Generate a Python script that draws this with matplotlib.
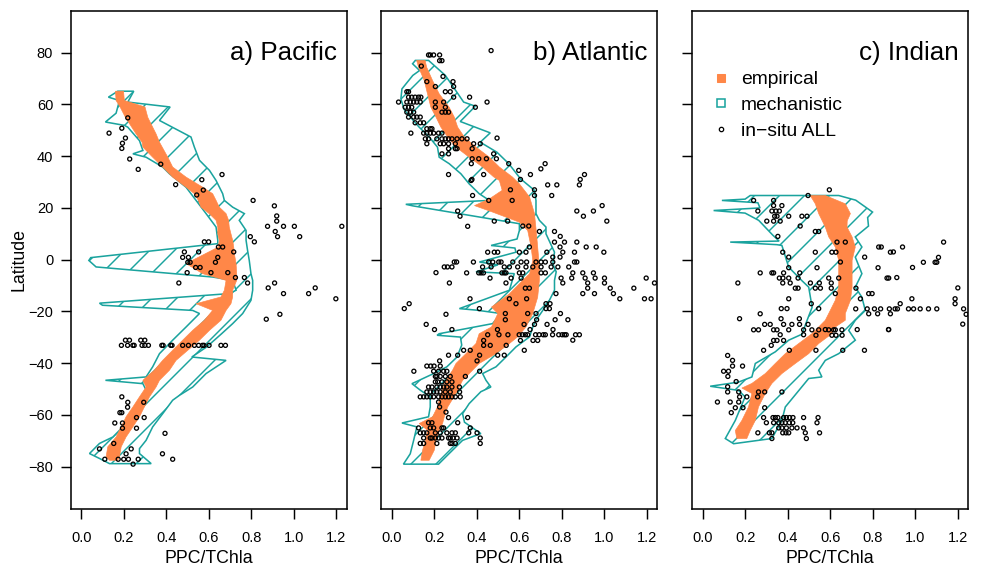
import numpy as np
import matplotlib
matplotlib.use("Agg")
import matplotlib.pyplot as plt
from matplotlib.lines import Line2D

plt.rcParams['font.family'] = ['Liberation Sans', 'DejaVu Sans']
plt.rcParams['hatch.linewidth'] = 1.4

ORANGE = '#FF8748'
TEAL = '#1AA39E'

TITLES = ['a) Pacific', 'b) Atlantic', 'c) Indian']
XTICKS = [0.0, 0.2, 0.4, 0.6, 0.8, 1.0, 1.2]
YTICKS = [-80, -60, -40, -20, 0, 20, 40, 60, 80]
LEGEND_LABELS = ['empirical', 'mechanistic', 'in\u2212situ ALL']

# ---------------- Pacific ----------------
PAC_EMP_W = [(65.1,0.161),(61.5,0.164),(59,0.183),(55,0.208),(48.6,0.258),(45.4,0.286),(43.5,0.29),(39.6,0.336),
             (35.8,0.383),(31.9,0.430),(28,0.493),(25.5,0.532),(22.9,0.551),(20.3,0.563),(17.8,0.602),(15.2,0.634),
             (12.6,0.642),(10,0.642),(7.5,0.649),(4.9,0.645),(-1.5,0.493),(-5.4,0.571),(-8,0.681),(-11.8,0.673),
             (-14.4,0.657),(-17,0.540),(-19.6,0.618),(-23.4,0.579),(-27.3,0.524),(-31.1,0.477),(-35,0.430),
             (-38.9,0.383),(-42.7,0.344),(-46.6,0.290),(-49.2,0.305),(-53,0.274),(-56.9,0.243),(-60.7,0.211),
             (-64.6,0.188),(-68.5,0.164),(-72.3,0.125),(-76.2,0.117),(-77.5,0.133)]
PAC_EMP_E = [(65.1,0.199),(61.5,0.203),(59,0.300),(55,0.313),(48.6,0.352),(45.4,0.368),(39.6,0.407),(35.8,0.430),
             (31.9,0.493),(28,0.571),(25.5,0.618),(22.9,0.634),(20.3,0.649),(17.8,0.681),(15.2,0.693),(12.6,0.696),
             (10,0.704),(7.5,0.712),(4.9,0.717),(2.3,0.720),(-1.5,0.728),(-5.4,0.731),(-8,0.731),(-11.8,0.712),
             (-14.4,0.712),(-17,0.704),(-19.6,0.681),(-23.4,0.657),(-27.3,0.603),(-31.1,0.556),(-35,0.501),
             (-38.9,0.446),(-42.7,0.415),(-46.6,0.368),(-49.2,0.352),(-53,0.321),(-56.9,0.297),(-60.7,0.274),
             (-64.6,0.243),(-68.5,0.211),(-72.3,0.188),(-76.2,0.180),(-77.5,0.172)]
PAC_MECH_W = [(65.1,0.172),(62.8,0.128),(61.5,0.180),(56.6,0.164),(53.2,0.114),(51.9,0.203),(51.2,0.219),(46.0,0.274),
              (42.2,0.290),(40.9,0.243),(39.6,0.305),(35.8,0.383),(33.2,0.415),(28.0,0.493),(22.9,0.540),(17.8,0.587),
              (12.6,0.634),(7.5,0.642),(6.2,0.642),(0.8,0.045),(-0.3,0.036),(-2.8,0.070),(-6.7,0.618),(-8.0,0.712),
              (-11.8,0.728),(-13.1,0.696),(-16.8,0.086),(-17.6,0.10),(-19.6,0.524),(-20.8,0.556),(-26.0,0.493),
              (-31.1,0.430),(-36.3,0.368),(-41.4,0.336),(-45.3,0.305),(-46.6,0.114),(-47.9,0.290),(-50.4,0.305),
              (-54.3,0.274),(-59.5,0.243),(-64.6,0.196),(-68.5,0.149),(-71.0,0.086),(-74.9,0.039),(-76.8,0.086),
              (-78.8,0.133)]
PAC_MECH_E = [(65.1,0.247),(60.9,0.219),(59.0,0.418),(53.8,0.368),(47.4,0.516),(43.5,0.532),(38.4,0.556),(34.5,0.603),
              (30.6,0.634),(25.5,0.665),(22.9,0.673),(20.3,0.712),(17.8,0.767),(15.2,0.743),(11.3,0.775),(7.5,0.775),
              (3.6,0.782),(-0.3,0.790),(-5.4,0.798),(-8.0,0.806),(-11.8,0.806),(-15.7,0.798),(-20.8,0.759),
              (-24.7,0.712),(-28.6,0.660),(-33.7,0.590),(-37.6,0.520),(-38.9,0.681),(-44.0,0.587),(-49.2,0.524),
              (-52.4,0.462),(-54.3,0.430),(-59.5,0.383),(-64.6,0.336),(-69.8,0.305),(-73.0,0.274),(-74.9,0.274),
              (-78.8,0.329)]
PAC_PTS = [(0.219,54.8),(0.191,50.8),(0.131,48.9),(0.208,47.0),(0.194,45.0),(0.191,43.0),(0.228,38.9),(0.268,34.9),
           (0.374,36.9),(0.444,29.0),(0.567,30.9),(0.574,26.9),(0.543,25.0),(0.662,32.9),(0.808,22.9),(0.876,12.9),
           (0.908,20.8),(0.919,16.9),(0.919,14.9),(0.912,10.9),(0.923,8.9),(0.951,12.9),(1.002,12.9),(1.027,8.9),
           (1.225,12.9),(0.795,8.9),(0.814,6.9),(0.579,6.9),(0.599,6.9),(0.645,4.9),(0.665,4.9),(0.717,3.0),
           (0.485,3.0),(0.477,0.9),(0.552,3.0),(0.504,0.9),(0.501,-1.0),(0.512,-1.0),(0.538,-3.0),(0.559,-3.0),
           (0.642,0.9),(0.631,-1.0),(0.610,-5.0),(0.498,-5.0),(0.689,-5.0),(0.725,-6.9),(0.767,-6.9),(0.782,-9.0),
           (0.459,-9.0),(0.879,-10.9),(0.909,-9.0),(1.100,-10.9),(0.951,-13.1),(1.069,-13.1),(1.197,-15.1),
           (0.870,-23.0),(0.934,-21.1),
           (0.208,-31.1),(0.227,-31.1),(0.280,-31.1),(0.299,-31.1),
           (0.189,-33.1),(0.218,-33.1),(0.243,-33.1),(0.249,-33.1),(0.286,-33.1),(0.299,-33.1),(0.316,-33.1),
           (0.379,-33.1),(0.385,-33.1),(0.421,-33.1),(0.427,-33.1),(0.477,-33.1),(0.504,-33.1),(0.532,-33.1),
           (0.552,-33.1),(0.570,-33.1),(0.577,-33.1),(0.601,-33.1),(0.657,-33.1),(0.678,-33.1),
           (0.191,-53.0),(0.219,-55.1),(0.218,-57.0),(0.191,-59.1),(0.182,-59.1),(0.158,-63.1),(0.194,-63.1),
           (0.194,-65.1),(0.294,-55.1),(0.260,-61.0),(0.296,-61.0),(0.260,-65.1),(0.394,-67.1),(0.382,-75.0),
           (0.430,-77.1),(0.086,-73.1),(0.153,-71.0),(0.111,-77.1),(0.174,-77.1),(0.200,-77.1),(0.211,-75.0),
           (0.222,-77.1),(0.235,-73.1),(0.244,-79.0),(0.268,-77.1)]

# ---------------- Atlantic ----------------
ATL_EMP_W = [(77,0.118),(74.4,0.127),(69.2,0.154),(64.1,0.169),(58.9,0.185),(55.1,0.209),(51.2,0.232),(47.4,0.264),
             (43.5,0.303),(39.6,0.365),(35.8,0.428),(32,0.48),(30.6,0.507),(26.8,0.52),(23.5,0.46),(20.9,0.39),
             (18.4,0.475),(14.5,0.601),(11.3,0.640),(4.9,0.656),(-0.3,0.664),(-5.4,0.649),(-9.3,0.601),(-13.2,0.554),
             (-18.3,0.47),(-20.8,0.5),(-26,0.47),(-28.6,0.412),(-32.4,0.397),(-36.3,0.350),(-40.1,0.303),
             (-42.7,0.287),(-46.6,0.256),(-51.7,0.232),(-56.9,0.216),(-60.7,0.193),(-63.3,0.130),(-65.9,0.169),
             (-69.8,0.160),(-73.6,0.146),(-77.5,0.138)]
ATL_EMP_E = [(77,0.158),(74.4,0.165),(69.2,0.193),(64.1,0.224),(58.9,0.271),(55.1,0.295),(51.2,0.311),(47.4,0.342),
             (43.5,0.397),(39.6,0.460),(35.8,0.507),(31.9,0.569),(29.3,0.601),(24.2,0.649),(17.8,0.672),(11.3,0.68),
             (4.9,0.687),(-2.8,0.695),(-8,0.695),(-14.5,0.687),(-20.8,0.664),(-26,0.632),(-29.8,0.593),
             (-32.4,0.554),(-36.3,0.491),(-40.1,0.412),(-42.7,0.381),(-46.6,0.334),(-51.7,0.303),(-56.9,0.264),
             (-60.7,0.248),(-63.3,0.240),(-65.9,0.224),(-69.8,0.209),(-73.6,0.201),(-77.5,0.177)]
ATL_MECH_W = [(77,0.112),(75.7,0.099),(73.1,0.132),(71.2,0.10),(66,0.049),(62.1,0.044),(58,0.06),(56.4,0.075),
              (51.2,0.130),(47.4,0.177),(43.5,0.216),(39.6,0.224),(37.1,0.271),(33.2,0.326),(29.3,0.365),
              (25.5,0.412),(22.9,0.460),(21.4,0.067),(20.8,0.10),(13.9,0.601),(11.3,0.601),(8,0.59),(5.5,0.468),
              (4.5,0.58),(2.9,0.585),(-0.9,0.413),(-2,0.5),(-4.7,0.397),(-5.4,0.577),(-11.8,0.554),(-18.9,0.319),
              (-19.5,0.4),(-20.8,0.515),(-24.7,0.475),(-28.6,0.224),(-29.2,0.214),(-29.9,0.324),(-33,0.33),
              (-37.6,0.308),(-41.4,0.26),(-44,0.198),(-47.9,0.096),(-50.4,0.135),(-53,0.182),(-56.9,0.182),
              (-60.7,0.174),(-63.1,0.049),(-64.6,0.119),(-69.8,0.104),(-75,0.088),(-79,0.056)]
ATL_MECH_E = [(77,0.174),(71.2,0.253),(60.9,0.339),(59.3,0.394),(53.4,0.323),(49,0.464),(45.4,0.417),(41.5,0.496),
              (37.1,0.551),(31.3,0.606),(30.6,0.616),(26.8,0.672),(22.9,0.679),(17.8,0.679),(15.2,0.695),
              (12.6,0.726),(10,0.726),(2.9,0.766),(-1.6,0.758),(-4.7,0.774),(-8,0.766),(-11.8,0.766),
              (-15.7,0.742),(-19.6,0.711),(-23.4,0.679),(-26,0.664),(-29.8,0.649),(-33.7,0.585),(-37.6,0.538),
              (-41.4,0.491),(-44,0.428),(-46.6,0.444),(-49.2,0.467),(-51,0.42),(-55.6,0.365),(-59.5,0.334),
              (-62.8,0.343),(-67.2,0.42),(-69.8,0.334),(-74.9,0.271),(-79,0.221)]
ATL_PTS = [(0.174,79.1),(0.182,79.1),(0.198,79.1),(0.226,79.1),(0.226,76.9),(0.237,76.9),(0.468,80.8),(0.140,74.8),
           (0.242,70.8),(0.166,68.8),(0.289,68.8),(0.292,66.9),(0.206,66.9),(0.253,64.9),(0.276,64.9),(0.072,64.9),
           (0.080,64.9),(0.080,62.8),(0.095,62.8),(0.111,62.8),(0.127,62.8),(0.138,62.8),(0.292,62.8),(0.367,62.8),
           (0.033,60.9),(0.072,60.9),(0.088,60.9),(0.104,60.9),(0.119,60.9),(0.135,60.9),(0.206,60.9),(0.245,60.9),
           (0.449,60.9),(0.064,58.9),(0.080,58.9),(0.095,58.9),(0.206,58.9),(0.253,58.9),(0.394,58.9),
           (0.072,57.0),(0.088,57.0),(0.104,57.0),(0.237,57.0),(0.253,57.0),(0.268,57.0),
           (0.080,55.1),(0.104,55.1),(0.119,55.1),(0.135,55.1),(0.111,52.9),(0.135,52.9),(0.151,52.9),
           (0.166,50.6),(0.182,50.6),(0.190,50.6),(0.091,48.9),(0.151,48.9),(0.166,48.9),(0.182,48.9),(0.198,48.9),
           (0.221,48.9),(0.237,48.9),(0.159,46.7),(0.174,46.7),(0.213,46.7),(0.237,46.7),(0.253,46.7),(0.268,46.7),
           (0.284,46.7),(0.308,46.7),(0.331,46.7),(0.355,46.7),(0.496,47.0),(0.166,44.8),(0.229,44.8),(0.245,44.8),
           (0.268,44.8),(0.300,44.8),(0.386,44.8),(0.417,44.8),(0.268,42.9),(0.300,42.9),(0.308,42.9),(0.379,42.9),
           (0.480,40.9),(0.237,40.9),(0.268,40.9),(0.379,39.0),(0.410,39.0),(0.446,39.0),(0.493,39.0),(0.375,37.1),
           (0.551,37.1),(0.268,32.9),(0.433,32.9),(0.598,34.5),(0.378,31.0),(0.606,31.0),
           (0.722,37.1),(0.702,35.1),(0.653,32.9),(0.907,32.9),(0.887,31.0),
           (0.374,30.6),(0.734,28.9),(0.777,28.9),(0.883,28.9),(0.559,27.0),(0.672,27.0),(0.381,24.8),(0.457,22.9),
           (0.567,22.9),(0.672,24.8),(0.753,24.8),(0.990,20.9),(0.871,18.8),(0.902,16.8),(0.949,18.8),(1.012,14.9),
           (0.311,18.8),(0.322,16.8),(0.358,12.9),(0.483,14.9),(0.546,14.9),(0.617,13.0),(0.645,13.0),(0.695,10.9),
           (0.766,10.9),(0.793,9.0),(0.766,6.8),(0.813,6.8),(0.871,6.8),(0.915,4.9),(0.962,4.9),(0.998,2.9),
           (0.792,4.9),(0.805,2.9),(0.860,2.9),(0.792,1.0),(0.758,1.0),(0.730,2.9),(0.648,4.9),(0.601,2.9),
           (0.632,2.9),(0.452,2.9),(0.483,2.9),(0.499,2.9),
           (0.295,-0.9),(0.306,-0.9),(0.385,-0.9),(0.457,-0.9),(0.476,-0.9),(0.504,-0.9),(0.515,-0.9),(0.570,-0.9),
           (0.609,-0.9),(0.635,-0.9),(0.679,-0.9),(0.703,-0.9),(0.723,-0.9),(0.758,-0.9),(0.860,-0.9),(0.871,-0.9),
           (0.248,-2.8),(0.263,-2.8),(0.284,-2.8),(0.428,-2.8),(0.468,-2.8),(0.530,-2.8),(0.554,-2.8),(0.593,-2.8),
           (0.632,-2.8),(0.664,-2.8),(0.703,-2.8),(0.750,-2.8),(0.782,-2.8),(0.833,-2.8),
           (0.209,-5.0),(0.353,-5.1),(0.410,-5.1),(0.421,-5.1),(0.432,-5.1),(0.519,-5.1),(0.530,-5.1),(0.538,-5.1),
           (0.601,-5.1),(0.617,-5.1),(0.703,-5.1),(0.723,-5.1),(0.852,-5.1),(0.899,-5.1),(0.949,-5.1),
           (0.463,-7.1),(0.562,-7.1),(0.609,-7.1),(0.797,-7.1),(0.847,-7.1),(0.910,-7.1),(0.957,-7.1),(1.001,-7.1),
           (1.197,-7.1),(0.272,-9.0),(0.538,-9.0),(0.805,-9.0),(0.922,-9.0),(1.001,-9.0),(1.236,-9.0),
           (0.629,-11.0),(0.648,-11.0),(0.922,-11.0),(1.028,-11.0),(1.139,-11.0),
           (0.899,-13.1),(0.954,-13.1),(1.043,-13.1),(0.773,-13.1),
           (0.369,-15.1),(0.554,-15.1),(0.635,-15.1),(1.073,-15.1),(1.189,-15.1),(1.220,-15.1),
           (0.585,-17.0),(0.726,-17.0),(0.745,-17.0),(0.083,-17.0),(0.060,-18.9),
           (0.413,-18.9),(0.726,-18.9),(0.742,-18.9),(0.535,-20.8),(0.640,-20.8),(0.679,-20.8),(0.794,-20.8),
           (0.256,-21.1),(0.535,-23.2),(0.682,-23.2),(0.769,-23.2),(0.829,-23.2),
           (0.163,-25.0),(0.623,-25.0),(0.672,-25.0),(0.731,-25.0),
           (0.202,-27.0),(0.284,-27.0),(0.498,-27.0),(0.651,-27.0),(0.759,-27.0),
           (0.452,-29.0),(0.505,-29.0),(0.547,-29.0),(0.600,-29.0),(0.615,-29.0),(0.629,-29.0),(0.640,-29.0),
           (0.677,-29.0),(0.694,-29.0),(0.713,-29.0),(0.723,-29.0),(0.757,-29.0),(0.786,-29.0),(0.802,-29.0),
           (0.813,-29.0),(0.821,-29.0),(0.865,-29.0),(0.883,-29.0),(0.852,-31.1),
           (0.433,-31.2),(0.606,-31.2),(0.665,-31.2),(0.687,-31.2),(0.464,-33.1),(0.433,-33.1),(0.539,-33.1),
           (0.624,-35.0),(0.339,-35.0),(0.370,-35.0),(0.268,-36.9),(0.311,-36.9),(0.414,-36.9),(0.499,-36.9),
           (0.530,-36.9),(0.402,-39.1),(0.226,-39.1),(0.166,-41.1),(0.184,-41.1),(0.200,-41.1),(0.229,-41.1),
           (0.105,-43.1),(0.198,-43.1),(0.221,-43.1),(0.245,-43.1),(0.260,-43.1),(0.414,-43.1),
           (0.206,-45.1),(0.213,-45.1),(0.229,-45.1),(0.253,-45.1),(0.276,-45.1),(0.347,-45.1),
           (0.206,-47.2),(0.217,-47.2),(0.237,-47.2),(0.260,-47.2),(0.284,-47.2),
           (0.174,-49.2),(0.190,-49.2),(0.213,-49.2),(0.229,-49.2),(0.245,-49.2),(0.260,-49.2),(0.284,-49.2),
           (0.319,-49.2),(0.166,-51.1),(0.182,-51.1),(0.198,-51.1),(0.213,-51.1),(0.229,-51.1),(0.253,-51.1),
           (0.276,-51.1),(0.320,-51.1),(0.135,-53.0),(0.151,-53.0),(0.166,-53.0),(0.182,-53.0),(0.198,-53.0),
           (0.221,-53.0),(0.237,-53.0),(0.253,-53.0),(0.268,-53.0),(0.284,-53.0),(0.300,-53.0),(0.323,-53.0),
           (0.221,-55.0),(0.226,-56.9),(0.256,-58.9),(0.268,-61.0),(0.358,-61.0),(0.311,-63.0),(0.174,-63.0),
           (0.190,-63.0),(0.127,-65.0),(0.182,-65.0),(0.198,-65.0),(0.237,-65.0),(0.245,-65.0),(0.370,-65.0),
           (0.135,-66.9),(0.151,-66.9),(0.166,-66.9),(0.206,-66.9),(0.229,-66.9),(0.260,-66.9),(0.284,-66.9),
           (0.300,-66.9),(0.363,-66.9),(0.402,-66.9),(0.151,-68.9),(0.182,-68.9),(0.190,-68.9),(0.206,-68.9),
           (0.221,-68.9),(0.237,-68.9),(0.268,-68.9),(0.276,-68.9),(0.289,-68.9),(0.308,-68.9),(0.417,-68.9),
           (0.135,-71.0),(0.151,-71.0),(0.213,-71.0),(0.276,-71.0),(0.284,-71.0),(0.300,-71.0),(0.417,-71.0)]

# ---------------- Indian ----------------
IND_EMP_W = [(24.8,0.506),(21.6,0.530),(17.8,0.546),(12.6,0.577),(8.8,0.593),(4.9,0.624),(-0.3,0.640),(-10.6,0.640),
             (-15.7,0.624),(-20.8,0.593),(-23.4,0.577),(-26,0.546),(-28.6,0.514),(-32.4,0.452),(-36.3,0.389),
             (-40.1,0.342),(-44,0.295),(-47.8,0.232),(-49.6,0.185),(-51.7,0.232),(-56.9,0.216),(-62.1,0.185),
             (-66,0.154),(-69.1,0.161)]
IND_EMP_E = [(24.8,0.577),(21.6,0.671),(17.8,0.695),(15,0.68),(12.6,0.679),(8.8,0.703),(4.9,0.718),(-0.3,0.703),
             (-10.6,0.703),(-15.7,0.695),(-20.8,0.671),(-23.4,0.671),(-26,0.624),(-28.6,0.608),(-32.4,0.546),
             (-36.3,0.499),(-40.1,0.436),(-44,0.373),(-47.8,0.326),(-51.7,0.295),(-56.9,0.263),(-62.1,0.248),
             (-66,0.224),(-69.1,0.208)]
IND_MECH_W = [(24.8,0.224),(23.4,0.2),(22.9,0.091),(22,0.26),(20,0.27),(19,0.052),(18,0.2),(15.2,0.264),(9.5,0.33),
              (7.2,0.36),(6.8,0.13),(5.8,0.35),(5.5,0.373),(-2.9,0.405),(-8.1,0.467),(-10.6,0.499),(-18.4,0.515),
              (-23.5,0.491),(-28.8,0.467),(-31.1,0.405),(-35.6,0.342),(-40.1,0.248),(-45.3,0.232),(-47.3,0.169),
              (-48.9,0.036),(-50.5,0.169),(-53,0.2),(-62.1,0.154),(-69.1,0.107),(-71.1,0.146)]
IND_MECH_E = [(24.8,0.64),(23,0.72),(18.4,0.799),(16.3,0.776),(13,0.78),(8.8,0.718),(4.9,0.749),(1,0.718),
              (-5.4,0.749),(-10.6,0.718),(-14.5,0.749),(-19.6,0.765),(-23.4,0.718),(-27.3,0.687),(-31.1,0.718),
              (-36.3,0.64),(-38.9,0.577),(-42.7,0.546),(-45.3,0.561),(-45.9,0.499),(-56.9,0.389),(-62.1,0.373),
              (-69.1,0.326)]
IND_PTS = [(0.596,27.0),(0.496,24.8),(0.240,22.9),(0.334,22.9),(0.334,20.9),(0.373,20.9),(0.326,18.8),(0.345,18.8),
           (0.361,18.8),(0.260,18.8),(0.339,16.8),(0.350,16.8),(0.405,16.8),(0.467,16.8),(0.491,16.8),(0.302,14.9),
           (0.334,14.9),(0.365,14.9),(0.459,13.0),(0.530,10.9),(0.546,10.9),(0.354,9.0),(0.632,6.8),(0.671,6.8),
           (0.377,2.9),(0.530,2.9),(0.608,2.9),(0.627,2.9),(0.405,1.0),(0.648,-0.9),(0.762,1.0),(0.405,-3.1),
           (0.538,-3.1),(0.271,-5.1),(0.326,-5.1),(0.334,-5.1),(0.381,-5.1),(0.457,-5.1),(0.361,-7.1),(0.378,-7.1),
           (0.405,-7.1),(0.449,-7.1),(0.593,-7.1),(0.640,-7.1),(0.166,-9.0),(0.377,-9.0),(0.412,-9.0),(0.507,-9.0),
           (0.549,-9.0),(0.605,-9.0),(0.436,-11.0),(0.449,-11.0),(0.530,-11.0),(0.554,-11.0),(0.605,-11.0),
           (0.721,-11.0),(0.624,-13.1),(0.405,-15.1),(0.742,-15.1),(0.370,-18.9),(0.397,-18.9),(0.511,-17.0),
           (0.546,-18.9),(0.174,-22.8),(0.271,-20.9),(0.369,-22.8),(0.455,-22.8),(0.781,-20.9),(0.823,-20.9),
           (0.883,-20.9),(0.292,-25.0),(0.318,-25.0),(0.381,-25.0),(0.420,-25.0),(0.456,-25.0),(0.496,-25.0),
           (0.240,-27.1),(0.263,-27.1),(0.334,-27.1),(0.350,-27.1),(0.405,-27.1),(0.475,-27.1),(0.514,-27.1),
           (0.546,-27.1),(0.593,-27.1),(0.616,-27.1),(0.624,-27.1),(0.655,-27.1),(0.365,-29.0),(0.475,-29.0),
           (0.828,4.9),(0.840,4.9),(0.883,2.9),(0.825,-3.1),(0.867,-7.1),(0.875,-7.1),(0.781,-13.1),(0.797,-13.1),
           (0.897,3.0),(0.940,4.9),(0.987,-3.0),(1.038,-1.0),(1.093,-1.0),(1.101,-1.0),(1.109,0.9),(1.133,6.8),
           (1.200,-10.9),(0.913,-6.9),(1.187,-15.1),(1.187,-17.0),(1.227,-19.0),(1.239,-21.1),(1.223,-24.9),
           (0.720,-19.0),(0.774,-19.0),(0.808,-19.0),(0.837,-19.0),(0.878,-19.0),(0.905,-19.0),(0.916,-19.0),
           (0.968,-19.0),(0.992,-19.0),(1.023,-19.0),(1.062,-19.0),(1.101,-19.0),(0.984,-15.1),(0.929,-17.0),
           (0.874,-27.0),(0.334,-31.2),(0.350,-31.2),(0.381,-31.2),(0.323,-33.1),(0.287,-35.0),(0.408,-35.0),
           (0.533,-35.0),(0.659,-35.0),(0.761,-35.0),(0.533,-29.2),(0.608,-29.2),(0.627,-29.2),(0.656,-29.2),
           (0.727,-27.0),(0.875,-27.0),(0.577,-27.0),(0.118,-37.0),(0.141,-38.9),(0.188,-41.1),(0.141,-41.1),
           (0.099,-43.1),(0.122,-43.1),(0.119,-45.1),(0.158,-47.1),(0.118,-49.1),(0.118,-51.1),(0.170,-51.1),
           (0.263,-51.1),(0.292,-51.1),(0.373,-51.1),(0.174,-53.0),(0.208,-53.0),(0.259,-53.0),(0.070,-55.0),
           (0.130,-55.0),(0.170,-55.0),(0.190,-57.2),(0.154,-57.2),(0.135,-59.1),(0.292,-57.2),
           (0.287,-61.0),(0.331,-61.0),(0.342,-61.0),(0.354,-61.0),(0.381,-61.0),(0.394,-61.0),(0.409,-61.0),
           (0.425,-61.0),(0.475,-61.0),(0.543,-61.0),(0.300,-63.0),(0.334,-63.0),(0.358,-63.0),(0.373,-63.0),
           (0.389,-63.0),(0.408,-63.0),(0.424,-63.0),(0.538,-63.0),(0.358,-65.0),(0.373,-65.0),(0.394,-65.0),
           (0.420,-65.0),(0.444,-65.0),(0.475,-65.0),(0.260,-66.9),(0.314,-66.9),(0.326,-66.9),(0.377,-66.9),
           (0.392,-66.9),(0.405,-66.9),(0.483,-66.9),(0.550,-66.9),(0.326,-69.1),(0.488,-69.1)]

PANELS = [
    (PAC_EMP_W, PAC_EMP_E, PAC_MECH_W, PAC_MECH_E, PAC_PTS),
    (ATL_EMP_W, ATL_EMP_E, ATL_MECH_W, ATL_MECH_E, ATL_PTS),
    (IND_EMP_W, IND_EMP_E, IND_MECH_W, IND_MECH_E, IND_PTS),
]


def band_polygon(west, east):
    w = np.array(west)
    e = np.array(east)
    xs = np.concatenate([w[:, 1], e[::-1, 1]])
    ys = np.concatenate([w[:, 0], e[::-1, 0]])
    return xs, ys


DPI = 75
fig = plt.figure(figsize=(983 / DPI, 570 / DPI), dpi=DPI)
lefts = [0.0722, 0.3879, 0.7043]
axes = []
for i, (left, title, data) in enumerate(zip(lefts, TITLES, PANELS)):
    emp_w, emp_e, mech_w, mech_e, pts = data
    ax = fig.add_axes([left, 0.1076, 0.2805, 0.8736])
    axes.append(ax)
    mx, my = band_polygon(mech_w, mech_e)
    ax.fill(mx, my, facecolor='none', edgecolor=TEAL, hatch='/', linewidth=1.5, zorder=1)
    ex, ey = band_polygon(emp_w, emp_e)
    ax.fill(ex, ey, facecolor=ORANGE, edgecolor=ORANGE, linewidth=0.6, zorder=2)
    p = np.array(pts)
    ax.scatter(p[:, 0], p[:, 1], s=15, facecolors='none', edgecolors='black', linewidths=1.25, zorder=3)

    ax.set_xlim(-0.048, 1.248)
    ax.set_ylim(-96.2, 96.2)
    ax.set_xticks(XTICKS)
    ax.set_xticklabels([f"{v:.1f}" for v in XTICKS])
    ax.set_yticks(YTICKS)
    if i == 0:
        ax.set_yticklabels([str(v).replace('-', '\u2212') for v in YTICKS])
        ax.set_ylabel('Latitude', fontsize=17)
        ax.yaxis.set_label_coords(-0.159, 0.5)
    else:
        ax.set_yticklabels([])
    ax.tick_params(axis='both', direction='out', length=9.6, width=1.4, labelsize=14)
    ax.tick_params(axis='x', pad=11.5)
    ax.tick_params(axis='y', pad=7.5)
    for s in ax.spines.values():
        s.set_linewidth(1.5)
    ax.set_xlabel('PPC/TChla', fontsize=17)
    ax.xaxis.set_label_coords(0.5, -0.082)
    ax.text(0.965, 0.901, title, transform=ax.transAxes, ha='right', va='baseline', fontsize=25)

handles = [
    Line2D([], [], ls='none', marker='s', markersize=7.5, markerfacecolor=ORANGE, markeredgecolor=ORANGE),
    Line2D([], [], ls='none', marker='s', markersize=7, markerfacecolor='none', markeredgecolor=TEAL, markeredgewidth=1.5),
    Line2D([], [], ls='none', marker='o', markersize=4.2, markerfacecolor='none', markeredgecolor='black', markeredgewidth=1.2),
]
axes[2].legend(handles, LEGEND_LABELS, loc='upper left', bbox_to_anchor=(0.072, 0.879), frameon=False,
               fontsize=18.5, handlelength=0.95, handletextpad=0.55, labelspacing=0.42, borderpad=0, borderaxespad=0)

fig.savefig('out.png', dpi=DPI)
